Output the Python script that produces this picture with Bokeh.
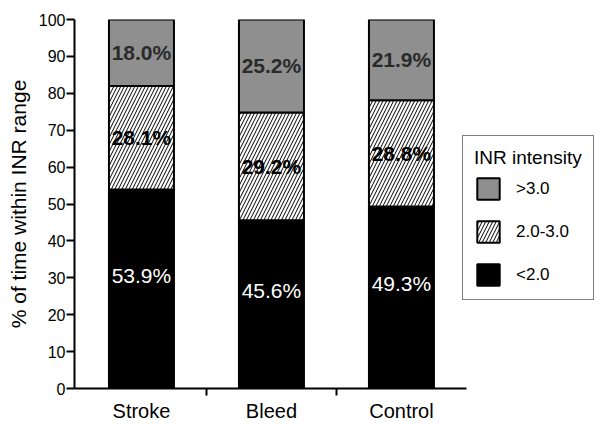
import numpy as np
from bokeh.plotting import figure
from bokeh.models import Range1d, FixedTicker, Legend, LegendItem, ColumnDataSource
from bokeh.core.properties import value
from bokeh.embed import file_html
from bokeh.resources import INLINE

# ---- data ----
groups = ["Stroke", "Bleed", "Control"]
below_2 = [53.9, 45.6, 49.3]      # <2.0
in_range = [28.1, 29.2, 28.8]     # 2.0-3.0
above_3 = [18.0, 25.2, 21.9]      # >3.0
series_names = ["<2.0", "2.0-3.0", ">3.0"]
legend_title = "INR intensity"
y_label = "% of time within INR range"
y_ticks = [0, 10, 20, 30, 40, 50, 60, 70, 80, 90, 100]

FONT = "Liberation Sans"

x = np.arange(len(groups)) + 0.5
b0 = np.zeros(len(groups))
t0 = b0 + np.array(below_2)
t1 = t0 + np.array(in_range)
t2 = t1 + np.array(above_3)

src = ColumnDataSource(dict(x=x, b0=b0, t0=t0, t1=t1, t2=t2))

n = len(groups)
W = 598
LEFT = 74
x_start = -0.015
x_end = x_start + (W - LEFT) / 130.0
p = figure(width=W, height=424, x_range=Range1d(x_start, x_end), y_range=Range1d(0, 100),
           output_backend="svg", toolbar_location=None,
           min_border_left=LEFT, min_border_top=19, min_border_bottom=0, min_border_right=0)
p.outline_line_color = None
p.grid.visible = False
p.background_fill_color = "white"

bw = 0.5
r_low = p.vbar(x="x", bottom="b0", top="t0", width=bw, source=src,
               fill_color="black", line_color="black", line_width=2)
r_mid = p.vbar(x="x", bottom="t0", top="t1", width=bw, source=src,
               fill_color="white", line_color="black", line_width=2,
               hatch_pattern="/", hatch_color="black", hatch_weight=1, hatch_scale=7)
r_high = p.vbar(x="x", bottom="t1", top="t2", width=bw, source=src,
                fill_color="#8f8f8f", line_color="black", line_width=2)

# labels
lab_low = ColumnDataSource(dict(x=x, y=(b0 + t0) / 2 + 3.7, t=[f"{v:.1f}%" for v in below_2]))
lab_mid = ColumnDataSource(dict(x=x, y=(t0 + t1) / 2, t=[f"{v:.1f}%" for v in in_range]))
lab_high = ColumnDataSource(dict(x=x, y=(t1 + t2) / 2, t=[f"{v:.1f}%" for v in above_3]))

p.text(x="x", y="y", text="t", source=lab_low, text_align="center", text_baseline="middle",
       text_font=value(FONT), text_font_size="21px", text_color="white")
p.text(x="x", y="y", text="t", source=lab_mid, text_align="center", text_baseline="middle",
       text_font=value(FONT), text_font_size="21px", text_font_style="bold", text_color="black")
p.text(x="x", y="y", text="t", source=lab_high, text_align="center", text_baseline="middle",
       text_font=value(FONT), text_font_size="21px", text_font_style="bold", text_color="#2a2a2a")

# axes
yax = p.yaxis[0]
yax.ticker = FixedTicker(ticks=y_ticks)
yax.axis_line_width = 2
yax.major_tick_line_width = 2
yax.major_tick_out = 8
yax.major_tick_in = 0
yax.minor_tick_line_color = None
yax.major_label_text_font = FONT
yax.major_label_text_font_size = "16px"
yax.major_label_text_color = "black"
yax.major_label_standoff = 1
yax.axis_label = y_label
yax.axis_label_text_font = FONT
yax.axis_label_text_font_size = "21px"
yax.axis_label_text_font_style = "normal"
yax.axis_label_text_color = "black"
yax.axis_label_standoff = 6

xax = p.xaxis[0]
xax.bounds = (x_start, n)
xax.ticker = FixedTicker(ticks=list(x), minor_ticks=list(range(1, n)))
xax.major_label_overrides = {float(xx): g for xx, g in zip(x, groups)}
xax.axis_line_width = 2
xax.major_tick_out = 0
xax.major_tick_in = 0
xax.minor_tick_out = 7
xax.minor_tick_in = 0
xax.minor_tick_line_width = 2
xax.minor_tick_line_color = "black"
xax.major_label_text_font = FONT
xax.major_label_text_font_size = "20px"
xax.major_label_text_color = "black"
xax.major_label_standoff = 4

legend = Legend(items=[LegendItem(label=series_names[2], renderers=[r_high]),
                       LegendItem(label=series_names[1], renderers=[r_mid]),
                       LegendItem(label=series_names[0], renderers=[r_low])],
                location=(388, 88), title=legend_title,
                title_text_font=FONT, title_text_font_size="19px", title_text_font_style="normal",
                title_text_color="black", title_standoff=6,
                label_text_font=FONT, label_text_font_size="17px", label_text_color="black",
                glyph_width=28, glyph_height=27, spacing=16, label_standoff=14,
                padding=11, margin=0, border_line_color="black", border_line_width=1.5,
                background_fill_alpha=1)
p.add_layout(legend)

open("out.html", "w").write(file_html(p, INLINE))
